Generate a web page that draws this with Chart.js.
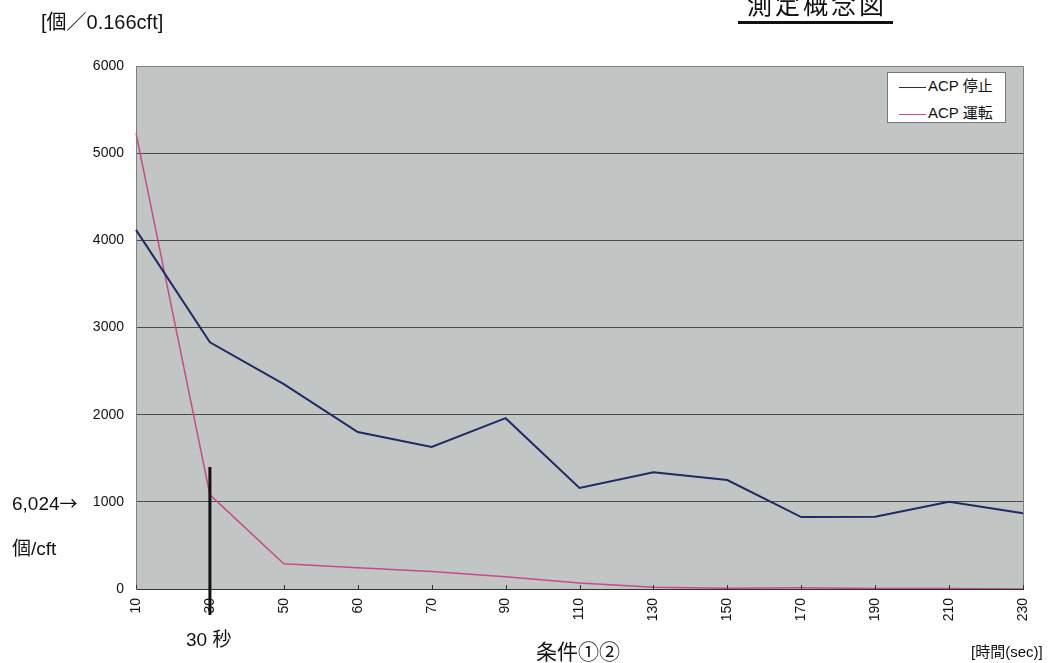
<!DOCTYPE html>
<html>
<head>
<meta charset="utf-8">
<script src="https://cdn.jsdelivr.net/npm/chart.js@4/dist/chart.umd.min.js"></script>
<style>
  html, body { margin: 0; padding: 0; background: #fff; }
  #wrap { position: relative; width: 1050px; height: 663px; overflow: hidden; font-family: "Liberation Sans", "Noto Sans CJK JP", sans-serif; color: #111; }
  #wrap canvas { position: absolute; left: 0; top: 0; }
  .note { position: absolute; white-space: nowrap; line-height: 1; }
  #legend { position: absolute; left: 887px; top: 72px; width: 119px; height: 51px; background: #fff; border: 1px solid #777; box-sizing: border-box; font-size: 15px; }
  #legend div { position: absolute; left: 11px; height: 18px; line-height: 18px; }
  #legend span { display: inline-block; width: 27px; height: 0; border-top: 1px solid; vertical-align: middle; margin-right: 2px; }
</style>
</head>
<body>
<div id="wrap">
  <canvas id="chart" width="1050" height="663"></canvas>
  <div class="note" style="left:738px; top:-9px; font-size:25px; letter-spacing:3px; border-bottom:3px solid #111; padding:0 6px 5px 9px; font-family:'Noto Sans CJK JP';">測定概念図</div>
  <div class="note" style="left:41px; top:12px; font-size:20px;">[個／0.166cft]</div>
  <div class="note" style="left:12px; top:493px; font-size:19px;">6,024<span style="font-family:'Noto Sans CJK JP'; font-size:18px;">→</span></div>
  <div class="note" style="left:12px; top:539px; font-size:19px;">個/cft</div>
  <div class="note" style="left:186px; top:630px; font-size:19px;">30 秒</div>
  <div class="note" style="left:536px; top:641px; font-size:21px;">条件①②</div>
  <div class="note" style="left:971px; top:644px; font-size:15px;">[時間(sec)]</div>
  <div id="legend"></div>
</div>
<script>
const times = ['10', '30', '50', '60', '70', '90', '110', '130', '150', '170', '190', '210', '230'];
const acpStop = [4120, 2830, 2350, 1800, 1630, 1960, 1160, 1340, 1250, 825, 830, 1000, 870];
const acpRun = [5230, 1080, 290, 245, 200, 140, 70, 20, 10, 15, 5, 5, 0];
const yTicks = [0, 1000, 2000, 3000, 4000, 5000, 6000];

const seriesNames = ['ACP 停止', 'ACP 運転'];
const seriesColors = ['#1f2a66', '#c84a88'];

const plotDecor = {
  id: 'plotDecor',
  beforeDraw(chart) {
    const { ctx, chartArea: a } = chart;
    ctx.save();
    ctx.fillStyle = '#c1c5c3';
    ctx.fillRect(a.left, a.top, a.right - a.left, a.bottom - a.top);
    ctx.restore();
  },
  afterDatasetsDraw(chart) {
    const { ctx, chartArea: a, scales } = chart;
    ctx.save();
    // top/right frame
    ctx.strokeStyle = '#808080';
    ctx.lineWidth = 1;
    ctx.beginPath();
    ctx.moveTo(a.left, a.top + 0.5);
    ctx.lineTo(a.right + 0.5, a.top + 0.5);
    ctx.lineTo(a.right + 0.5, a.bottom);
    ctx.stroke();
    // inward ticks on x axis
    ctx.strokeStyle = '#333';
    times.forEach((t, i) => {
      const x = Math.round(scales.x.getPixelForValue(i)) + 0.5;
      ctx.beginPath();
      ctx.moveTo(x, a.bottom);
      ctx.lineTo(x, a.bottom - 4);
      ctx.stroke();
    });
    // marker at 30 sec
    const x30 = scales.x.getPixelForValue(times.indexOf('30'));
    ctx.strokeStyle = '#111';
    ctx.lineWidth = 3;
    ctx.beginPath();
    ctx.moveTo(x30, a.bottom - 122);
    ctx.lineTo(x30, a.bottom + 26);
    ctx.stroke();
    ctx.restore();
  }
};

const chart = new Chart(document.getElementById('chart'), {
  type: 'line',
  data: {
    labels: times,
    datasets: [
      { label: seriesNames[0], data: acpStop, borderColor: seriesColors[0], borderWidth: 2, pointRadius: 0, tension: 0 },
      { label: seriesNames[1], data: acpRun, borderColor: seriesColors[1], borderWidth: 1.5, pointRadius: 0, tension: 0 }
    ]
  },
  options: {
    responsive: false,
    animation: false,
    layout: { padding: { top: 66, right: 27, bottom: 0, left: 0 } },
    plugins: { legend: { display: false }, tooltip: { enabled: false } },
    scales: {
      x: {
        offset: false,
        afterFit(s) { s.height = 74; },
        grid: { display: true, drawOnChartArea: false, drawTicks: false },
        border: { color: '#333', width: 1 },
        ticks: {
          minRotation: 90, maxRotation: 90, padding: 9, autoSkip: false,
          color: '#111', font: { family: 'Liberation Sans', size: 14 }
        }
      },
      y: {
        min: 0, max: 6000,
        afterFit(s) { s.width = 136; },
        afterBuildTicks(s) { s.ticks = yTicks.map(v => ({ value: v })); },
        grid: { color: '#4a4a4a', lineWidth: 1, drawTicks: false },
        border: { color: '#808080', width: 1 },
        ticks: {
          padding: 12, color: '#111',
          font: { family: 'Liberation Sans', size: 14 },
          callback: v => String(v)
        }
      }
    }
  },
  plugins: [plotDecor]
});

const legend = document.getElementById('legend');
chart.data.datasets.forEach((ds, i) => {
  const row = document.createElement('div');
  row.style.top = (4 + i * 27) + 'px';
  row.innerHTML = '<span style="border-color:' + ds.borderColor + '"></span>' + ds.label;
  legend.appendChild(row);
});
</script>
</body>
</html>
